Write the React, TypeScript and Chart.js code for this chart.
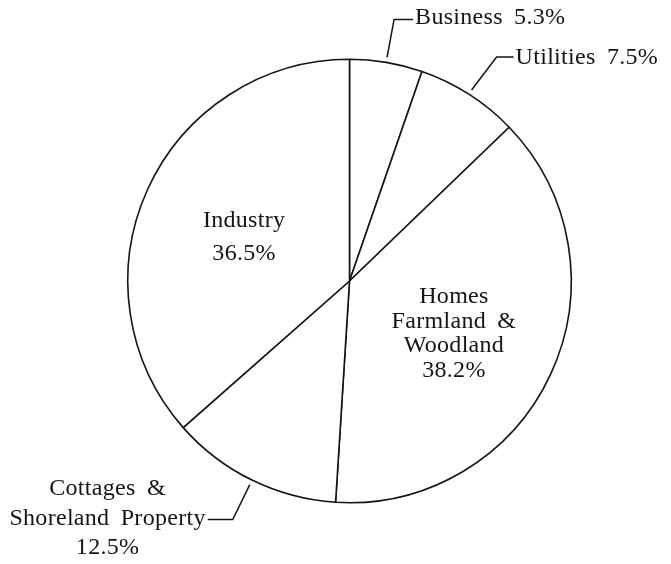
import React, { useEffect, useRef } from "react";
import { Chart, ArcElement, PieController } from "chart.js";

Chart.register(ArcElement, PieController);

// ---- data (clockwise from 12 o'clock) ----
const categories = [
  "Business",
  "Utilities",
  "Homes Farmland & Woodland",
  "Cottages & Shoreland Property",
  "Industry",
];
const shares = [5.3, 7.5, 38.2, 12.5, 36.5];
const nameLines = [
  ["Business"],
  ["Utilities"],
  ["Homes", "Farmland &", "Woodland"],
  ["Cottages &", "Shoreland Property"],
  ["Industry"],
];

const FONT = "24px 'Liberation Serif', 'Times New Roman', serif";
const INK = "#141414";

type LabelStyle =
  | { kind: "inside"; dAngleDeg: number; frac: number; lh: number }
  | { kind: "leaderRight"; elbowDx: number; elbowDy: number; run: number; textDy: number }
  | { kind: "leaderLeft"; elbowDx: number; elbowDy: number; run: number; textDy: number; lh: number };

const labelStyles: LabelStyle[] = [
  { kind: "leaderRight", elbowDx: 7, elbowDy: -38, run: 19, textDy: 5 },
  { kind: "leaderRight", elbowDx: 25, elbowDy: -33, run: 17, textDy: 7 },
  { kind: "inside", dAngleDeg: 1.35, frac: 0.525, lh: 24.7 },
  { kind: "leaderLeft", elbowDx: -17, elbowDy: 35, run: 25, textDy: 5, lh: 29.5 },
  { kind: "inside", dAngleDeg: -1.2, frac: 0.517, lh: 33 },
];

const labelPlugin = {
  id: "pieLabels",
  afterDraw(chart: any) {
    const ctx: CanvasRenderingContext2D = chart.ctx;
    const meta = chart.getDatasetMeta(0);
    ctx.save();
    ctx.font = FONT;
    (ctx as any).letterSpacing = "0.3px";
    (ctx as any).wordSpacing = "5px";
    ctx.fillStyle = INK;
    ctx.strokeStyle = INK;
    ctx.lineWidth = 1.5;
    const capH = 15;
    meta.data.forEach((arc: any, i: number) => {
      const p = arc.getProps(["x", "y", "startAngle", "endAngle", "outerRadius"], true);
      const mid = (p.startAngle + p.endAngle) / 2;
      const st = labelStyles[i];
      const pct = shares[i] + "%";
      if (st.kind === "inside") {
        const a = mid + (st.dAngleDeg * Math.PI) / 180;
        const cx = p.x + Math.cos(a) * p.outerRadius * st.frac;
        const cy = p.y + Math.sin(a) * p.outerRadius * st.frac;
        const lines = [...nameLines[i], pct];
        const first = cy - ((lines.length - 1) * st.lh) / 2 + capH / 2;
        ctx.textAlign = "center";
        ctx.textBaseline = "alphabetic";
        lines.forEach((t, k) => ctx.fillText(t, cx, first + k * st.lh));
      } else {
        const r0 = p.outerRadius + 5;
        const sx = p.x + Math.cos(mid) * r0;
        const sy = p.y + Math.sin(mid) * r0;
        const ex = sx + st.elbowDx;
        const ey = sy + st.elbowDy;
        const dir = st.kind === "leaderRight" ? 1 : -1;
        const hx = ex + dir * st.run;
        ctx.beginPath();
        ctx.moveTo(sx, sy);
        ctx.lineTo(ex, ey);
        ctx.lineTo(hx, ey);
        ctx.stroke();
        ctx.textBaseline = "alphabetic";
        if (st.kind === "leaderRight") {
          ctx.textAlign = "left";
          ctx.fillText(nameLines[i].join(" ") + " " + pct, hx + 2, ey + st.textDy);
        } else {
          const lines = [...nameLines[i], pct];
          const ref = nameLines[i][nameLines[i].length - 1];
          const w = ctx.measureText(ref).width;
          const cx = hx - 2 - w / 2;
          const refIdx = nameLines[i].length - 1;
          const base = ey + st.textDy;
          ctx.textAlign = "center";
          lines.forEach((t, k) => ctx.fillText(t, cx, base + (k - refIdx) * st.lh));
        }
      }
    });
    ctx.restore();
  },
};

export default function App() {
  const ref = useRef<HTMLCanvasElement | null>(null);
  useEffect(() => {
    if (!ref.current) return;
    const chart = new Chart(ref.current, {
      type: "pie",
      data: {
        labels: categories,
        datasets: [
          {
            data: shares,
            backgroundColor: "#ffffff",
            borderColor: INK,
            borderWidth: 1.6,
            hoverBorderWidth: 1.6,
            borderAlign: "center",
          },
        ],
      },
      options: {
        animation: false,
        responsive: true,
        maintainAspectRatio: false,
        events: [],
        layout: { padding: { left: 127, right: 99, top: 58, bottom: 60 } },
        plugins: {},
      },
      plugins: [labelPlugin],
    });
    return () => chart.destroy();
  }, []);
  return (
    <div style={{ position: "absolute", left: 0, top: 0, width: 671, height: 564, background: "#fff" }}>
      <canvas ref={ref} />
    </div>
  );
}
